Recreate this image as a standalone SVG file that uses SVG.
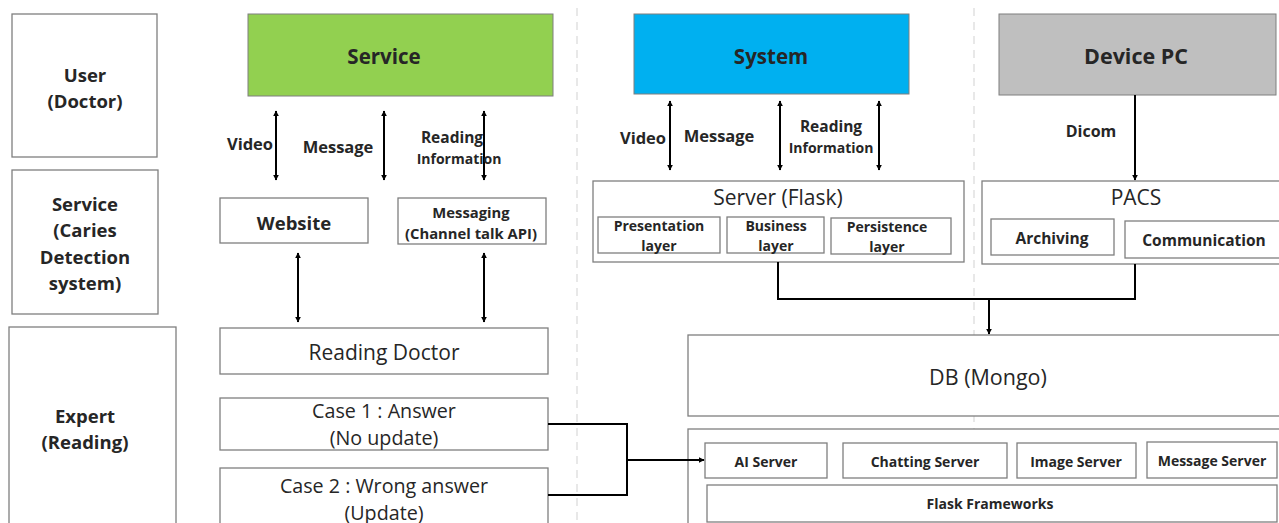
<svg xmlns="http://www.w3.org/2000/svg" width="1279" height="523" viewBox="0 0 1279 523">
<defs>
<marker id="ah" viewBox="0 0 10 10" refX="9" refY="5" markerWidth="6" markerHeight="6" markerUnits="userSpaceOnUse" orient="auto-start-reverse"><path d="M0,0 L10,5 L0,10 z" fill="#000"/></marker>
<style>
.box{fill:#fff;stroke:#7f7f7f;stroke-width:1.3}
.t{font-family:"Open Sans","Noto Sans",sans-serif;fill:#262626;text-anchor:middle;dominant-baseline:central}
.b{font-weight:bold}
.lg{font-size:18.5px}
.hd{font-size:20.5px}
.md{font-size:16.5px}
.sm{font-size:14px}
.reg{font-size:21px}
.cs{font-size:19.7px}
.ln{stroke:#000;stroke-width:2;fill:none}
.dash{stroke:#d9d9d9;stroke-width:1.2;stroke-dasharray:8,6}
</style>
</defs>
<rect width="1279" height="523" fill="#fff"/>
<g id="dividers">
<line class="dash" x1="577" y1="8" x2="577" y2="523"/>
<line class="dash" x1="974" y1="8" x2="974" y2="523"/>
</g>
<g id="user"><rect class="box" x="12" y="14" width="145" height="143"/><text class="t b lg" x="85" y="74">User</text><text class="t b lg" x="85" y="100">(Doctor)</text></g>
<g id="service-label"><rect class="box" x="12" y="170" width="146" height="144"/><text class="t b lg" x="85" y="203">Service</text><text class="t b lg" x="85" y="229">(Caries</text><text class="t b lg" x="85" y="256">Detection</text><text class="t b lg" x="85" y="282">system)</text></g>
<g id="expert"><rect class="box" x="9" y="327" width="167" height="200"/><text class="t b lg" x="85" y="415">Expert</text><text class="t b lg" x="85" y="441">(Reading)</text></g>
<g id="service"><rect x="248" y="14" width="305" height="82" fill="#92D050" stroke="#7f7f7f"/><text class="t b hd" x="384" y="56" fill="#000">Service</text></g>
<g id="system"><rect x="634" y="14" width="275" height="80" fill="#00B0F0" stroke="#7f7f7f"/><text class="t b hd" x="771" y="56">System</text></g>
<g id="device"><rect x="999" y="14" width="277" height="81" fill="#BFBFBF" stroke="#7f7f7f"/><text class="t b" style="font-size:21.5px" x="1136" y="55">Device PC</text></g>
<g id="website"><rect class="box" x="220" y="198" width="148" height="45"/><text class="t b" style="font-size:18.5px" x="294" y="222">Website</text></g>
<g id="messaging"><rect class="box" x="398" y="198" width="148" height="46"/><text class="t b" style="font-size:14.8px" x="471" y="212">Messaging</text><text class="t b" style="font-size:14.8px" x="471" y="233">(Channel talk API)</text></g>
<g id="reading-doctor"><rect class="box" x="220" y="328" width="328" height="46"/><text class="t reg" x="384" y="352">Reading Doctor</text></g>
<g id="case1"><rect class="box" x="220" y="398" width="328" height="52"/><text class="t cs" x="384" y="410">Case 1 : Answer</text><text class="t cs" x="384" y="437">(No update)</text></g>
<g id="case2"><rect class="box" x="220" y="468" width="328" height="60"/><text class="t cs" x="384" y="485">Case 2 : Wrong answer</text><text class="t cs" x="384" y="512">(Update)</text></g>
<g id="server"><rect class="box" x="593" y="181" width="371" height="81"/><text class="t" style="font-size:21px" x="778" y="197">Server (Flask)</text>
<rect class="box" x="598" y="217" width="122" height="36"/><text class="t b sm" x="659" y="225">Presentation</text><text class="t b sm" x="659" y="245">layer</text>
<rect class="box" x="727" y="217" width="97" height="36"/><text class="t b sm" x="776" y="225">Business</text><text class="t b sm" x="776" y="245">layer</text>
<rect class="box" x="831" y="218" width="120" height="36"/><text class="t b sm" x="887" y="226">Persistence</text><text class="t b sm" x="887" y="246">layer</text></g>
<g id="pacs"><rect class="box" x="982" y="181" width="300" height="83"/><text class="t reg" x="1136" y="197">PACS</text>
<rect class="box" x="991" y="219" width="123" height="36"/><text class="t b" style="font-size:15.5px" x="1052" y="238">Archiving</text>
<rect class="box" x="1125" y="221" width="157" height="37"/><text class="t b" style="font-size:15.5px" x="1204" y="240">Communication</text></g>
<g id="db"><rect class="box" x="688" y="335" width="594" height="81"/><text class="t" style="font-size:21.5px" x="988" y="376">DB (Mongo)</text></g>
<g id="servers"><rect class="box" x="688" y="429" width="594" height="100"/>
<rect class="box" x="705" y="443" width="122" height="35"/><text class="t b sm" x="766" y="461">AI Server</text>
<rect class="box" x="843" y="443" width="164" height="35"/><text class="t b sm" x="925" y="461">Chatting Server</text>
<rect class="box" x="1017" y="443" width="119" height="35"/><text class="t b sm" x="1076" y="461">Image Server</text>
<rect class="box" x="1147" y="442" width="130" height="36"/><text class="t b sm" x="1212" y="460">Message Server</text>
<rect class="box" x="707" y="485" width="570" height="37"/><text class="t b sm" x="990" y="503">Flask Frameworks</text></g>
<g id="connectors">
<line class="ln" x1="276" y1="111" x2="276" y2="180" marker-start="url(#ah)" marker-end="url(#ah)"/>
<line class="ln" x1="384" y1="111" x2="384" y2="180" marker-start="url(#ah)" marker-end="url(#ah)"/>
<line class="ln" x1="484" y1="111" x2="484" y2="180" marker-start="url(#ah)" marker-end="url(#ah)"/>
<line class="ln" x1="298" y1="253" x2="298" y2="322" marker-start="url(#ah)" marker-end="url(#ah)"/>
<line class="ln" x1="484" y1="253" x2="484" y2="322" marker-start="url(#ah)" marker-end="url(#ah)"/>
<line class="ln" x1="670" y1="101" x2="670" y2="170" marker-start="url(#ah)" marker-end="url(#ah)"/>
<line class="ln" x1="780" y1="101" x2="780" y2="170" marker-start="url(#ah)" marker-end="url(#ah)"/>
<line class="ln" x1="879" y1="101" x2="879" y2="170" marker-start="url(#ah)" marker-end="url(#ah)"/>
<line class="ln" x1="1135" y1="95" x2="1135" y2="180" marker-end="url(#ah)"/>
<polyline class="ln" points="778,262 778,299 1135,299 1135,264"/>
<line class="ln" x1="989" y1="299" x2="989" y2="334" marker-end="url(#ah)"/>
<polyline class="ln" points="548,424 627,424 627,495 548,495"/>
<line class="ln" x1="627" y1="460" x2="704" y2="460" marker-end="url(#ah)"/>
<text class="t b md" x="250" y="143">Video</text>
<text class="t b md" x="338" y="146">Message</text>
<text class="t b" style="font-size:15.5px" x="452" y="137">Reading</text>
<text class="t b" style="font-size:14px" x="459" y="158">Information</text>
<text class="t b md" x="643" y="137">Video</text>
<text class="t b md" x="719" y="135">Message</text>
<text class="t b" style="font-size:15.5px" x="831" y="126">Reading</text>
<text class="t b" style="font-size:14px" x="831" y="147">Information</text>
<text class="t b" style="font-size:16px" x="1091" y="131">Dicom</text>
</g>
</svg>
